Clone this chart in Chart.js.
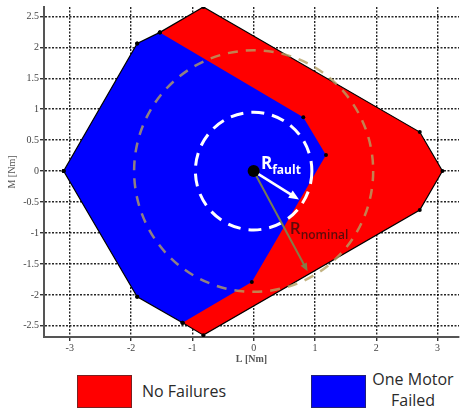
<!DOCTYPE html>
<html>
<head>
<meta charset="utf-8">
<script src="https://cdn.jsdelivr.net/npm/chart.js@4/dist/chart.umd.min.js"></script>
<style>
    body { margin: 0; background: #fff; }
    .wrap { position: relative; width: 463px; height: 413px; overflow: hidden; }
    #torqueChart { position: absolute; left: 0; top: 0; }
    .legend-box { position: absolute; top: 375px; width: 55px; height: 33px; box-sizing: border-box; border: 1px solid #7a2020; }
    .legend-text { position: absolute; font-family: "Open Sans", sans-serif; font-size: 16px; color: #2a2a2a; line-height: 21px; text-align: center; }
</style>
</head>
<body>
<div class="wrap">
    <canvas id="torqueChart" width="463" height="365"></canvas>
    <div class="legend-box" style="left:77px; background:#ff0000;"></div>
    <div class="legend-text" style="left:142px; top:381px;">No Failures</div>
    <div class="legend-box" style="left:311px; background:#0000ff; border-color:#20207a;"></div>
    <div class="legend-text" style="left:366px; top:369px; width:94px;">One Motor<br>Failed</div>
</div>
<script>
// Achievable torque envelope, L vs M [Nm]
const nominalL = [-1.53, -0.82, 2.71, 3.08, 2.71, -0.82, -1.16, -1.53];
const nominalM = [2.24, 2.65, 0.63, 0, -0.63, -2.65, -2.45, 2.24];

const faultL = [-3.1, -1.9, -1.53, 0.81, 1.18, -0.03, -1.16, -1.9, -3.1];
const faultM = [0, 2.06, 2.24, 0.87, 0.26, -1.79, -2.45, -2.03, 0];

// outer edges of the one-motor-failed region get a black outline
const faultEdgeL = [-1.16, -1.9, -3.1, -1.9, -1.53];
const faultEdgeM = [-2.45, -2.03, 0, 2.06, 2.24];

const xTicks = [-3, -2, -1, 0, 1, 2, 3];
const yTicks = [-2.5, -2, -1.5, -1, -0.5, 0, 0.5, 1, 1.5, 2, 2.5];

const center = [0, 0];
const faultRadius = 0.95;
const nominalRadius = 1.95;
const faultArrowTip = [0.74, -0.46];
const nominalArrowTip = [0.88, -1.62];

const toPoints = (xs, ys) => xs.map((v, i) => ({ x: v, y: ys[i] }));

function drawArrow(ctx, x0, y0, x1, y1, color, width, head) {
    const ang = Math.atan2(y1 - y0, x1 - x0);
    ctx.save();
    ctx.setLineDash([]);
    ctx.strokeStyle = color;
    ctx.fillStyle = color;
    ctx.lineWidth = width;
    ctx.beginPath();
    ctx.moveTo(x0, y0);
    ctx.lineTo(x1 - Math.cos(ang) * head * 0.8, y1 - Math.sin(ang) * head * 0.8);
    ctx.stroke();
    ctx.beginPath();
    ctx.moveTo(x1, y1);
    ctx.lineTo(x1 - head * Math.cos(ang - 0.4), y1 - head * Math.sin(ang - 0.4));
    ctx.lineTo(x1 - head * Math.cos(ang + 0.4), y1 - head * Math.sin(ang + 0.4));
    ctx.closePath();
    ctx.fill();
    ctx.restore();
}

function drawSubLabel(ctx, px, py, main, sub, color, weight) {
    ctx.fillStyle = color;
    ctx.textBaseline = 'alphabetic';
    ctx.textAlign = 'left';
    ctx.font = weight + ' 17px "Open Sans", sans-serif';
    ctx.fillText(main, px, py);
    const w = ctx.measureText(main).width;
    ctx.font = weight + ' 12px "Open Sans", sans-serif';
    ctx.fillText(sub, px + w, py + 5);
}

// circles, radius arrows and their labels on top of the regions
const overlayPlugin = {
    id: 'overlay',
    afterDatasetsDraw(chart) {
        const { ctx, scales: { x, y } } = chart;
        const cx = x.getPixelForValue(center[0]);
        const cy = y.getPixelForValue(center[1]);
        const rx = r => x.getPixelForValue(r) - x.getPixelForValue(0);
        const ry = r => y.getPixelForValue(0) - y.getPixelForValue(r);

        ctx.save();
        ctx.lineCap = 'butt';

        ctx.setLineDash([10, 8]);
        ctx.lineWidth = 2.5;
        ctx.strokeStyle = 'rgba(180, 160, 100, 0.8)';
        ctx.beginPath();
        ctx.ellipse(cx, cy, rx(nominalRadius), ry(nominalRadius), 0, 0, Math.PI * 2);
        ctx.stroke();

        ctx.setLineDash([13, 8]);
        ctx.lineWidth = 3;
        ctx.strokeStyle = '#ffffff';
        ctx.beginPath();
        ctx.ellipse(cx, cy, rx(faultRadius), ry(faultRadius), 0, 0, Math.PI * 2);
        ctx.stroke();

        drawArrow(ctx, cx, cy, x.getPixelForValue(nominalArrowTip[0]), y.getPixelForValue(nominalArrowTip[1]),
            'rgba(125, 130, 75, 0.95)', 2, 9);
        drawArrow(ctx, cx, cy, x.getPixelForValue(faultArrowTip[0]), y.getPixelForValue(faultArrowTip[1]),
            '#ffffff', 2.5, 11);

        ctx.setLineDash([]);
        ctx.fillStyle = '#000';
        ctx.beginPath();
        ctx.arc(cx, cy, 6, 0, Math.PI * 2);
        ctx.fill();

        drawSubLabel(ctx, x.getPixelForValue(0.12), y.getPixelForValue(0.03), 'R', 'fault', '#ffffff', 'bold');
        drawSubLabel(ctx, x.getPixelForValue(0.59), y.getPixelForValue(-1.02), 'R', 'nominal', '#5e0a0a', '600');
        ctx.restore();
    }
};

const serif = { family: '"Liberation Serif", "DejaVu Serif", serif', size: 10 };
const plainTick = v => String(v);

const chart = new Chart(document.getElementById('torqueChart'), {
    type: 'line',
    data: {
        datasets: [
            {
                label: 'No Failures',
                data: toPoints(nominalL, nominalM),
                borderColor: '#000',
                borderWidth: 1.2,
                backgroundColor: '#ff0000',
                fill: 'shape',
                pointRadius: 2,
                pointBorderWidth: 0,
                pointBackgroundColor: '#000',
                tension: 0,
                order: 3
            },
            {
                label: 'One Motor Failed',
                data: toPoints(faultL, faultM),
                borderColor: '#0000ff',
                borderWidth: 0,
                backgroundColor: '#0000ff',
                fill: 'shape',
                pointRadius: 2,
                pointBorderWidth: 0,
                pointBackgroundColor: '#000',
                tension: 0,
                order: 2
            },
            {
                label: 'edge',
                data: toPoints(faultEdgeL, faultEdgeM),
                borderColor: '#000',
                borderWidth: 1.2,
                fill: false,
                pointRadius: 2,
                pointBorderWidth: 0,
                pointBackgroundColor: '#000',
                tension: 0,
                order: 1
            }
        ]
    },
    options: {
        responsive: false,
        animation: false,
        layout: { padding: { top: 7, left: 0, right: 0, bottom: 0 } },
        plugins: {
            legend: { display: false },
            tooltip: { enabled: false }
        },
        scales: {
            x: {
                type: 'linear',
                min: -3.42,
                max: 3.35,
                afterBuildTicks: s => { s.ticks = xTicks.map(v => ({ value: v })); },
                afterFit: s => { s.height = 28; },
                grid: {
                    color: 'rgba(0,0,0,0.85)',
                    lineWidth: 1.4,
                    tickLength: 4,
                    tickColor: '#333',
                    tickBorderDash: []
                },
                border: { display: true, color: '#555', width: 2, dash: [2, 1.5] },
                ticks: { font: serif, color: '#444', padding: 1, maxRotation: 0, callback: plainTick },
                title: {
                    display: true,
                    text: 'L [Nm]',
                    font: { ...serif, weight: 'bold' },
                    color: '#555',
                    padding: { top: 0, bottom: 0 }
                }
            },
            y: {
                type: 'linear',
                min: -2.68,
                max: 2.65,
                afterBuildTicks: s => { s.ticks = yTicks.map(v => ({ value: v })); },
                afterFit: s => { s.width = 44; },
                grid: {
                    color: 'rgba(0,0,0,0.85)',
                    lineWidth: 1.4,
                    tickLength: 4,
                    tickColor: '#333',
                    tickBorderDash: []
                },
                border: { display: true, color: '#555', width: 2, dash: [2, 1.5] },
                ticks: { font: serif, color: '#444', padding: 1, callback: plainTick },
                title: {
                    display: true,
                    text: 'M [Nm]',
                    font: serif,
                    color: '#555',
                    padding: { top: 6, bottom: 0 }
                }
            }
        }
    },
    plugins: [overlayPlugin]
});
</script>
</body>
</html>
